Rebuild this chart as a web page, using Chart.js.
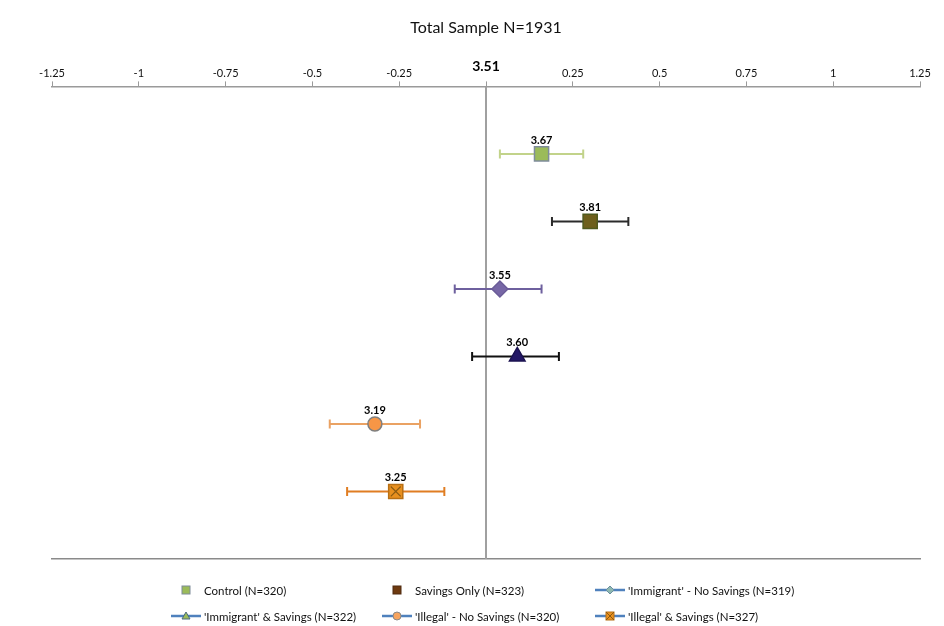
<!DOCTYPE html>
<html>
<head>
<meta charset="utf-8">
<script src="https://cdn.jsdelivr.net/npm/chart.js@4"></script>
<style>
  body { margin: 0; background: #fff; font-family: Lato, sans-serif; }
  #wrap { position: relative; width: 944px; height: 626px; }
  #wrap canvas { position: absolute; left: 0; top: 0; }
  .legend { position: absolute; left: 0; top: 580px; width: 944px; font-size: 11.5px; color: #111; }
  .item { position: absolute; display: flex; align-items: center; height: 20px; }
  .item svg { width: 32px; height: 14px; margin-right: 2px; }
</style>
</head>
<body>
<div id="wrap">
  <canvas id="chart" width="944" height="626"></canvas>
  <div class="legend" id="legend"></div>
</div>
<script>
// overall mean, shown as the zero of the axis
const baseline = 3.51;
const groups = ['Control (N=320)', 'Savings Only (N=323)', "'Immigrant' - No Savings (N=319)",
                "'Immigrant' & Savings (N=322)", "'Illegal' - No Savings (N=320)", "'Illegal' & Savings (N=327)"];
const means = [3.67, 3.81, 3.55, 3.60, 3.19, 3.25];
// error bar ends, as distance from the baseline
const errLow = [0.04, 0.19, -0.09, -0.04, -0.45, -0.40];
const errHigh = [0.28, 0.41, 0.16, 0.21, -0.19, -0.12];
const xTicks = [-1.25, -1, -0.75, -0.5, -0.25, 0, 0.25, 0.5, 0.75, 1, 1.25];

const markers = [
    { style: 'rect', radius: 10, fill: '#9bbb59', border: '#7f8c9a', bar: '#c2d38a' },
    { style: 'rect', radius: 10, fill: '#6e5f1c', border: '#4f5a1e', bar: '#2b2b2b' },
    { style: 'rectRot', radius: 8, fill: '#7767a6', border: '#6a5c98', bar: '#6e609e' },
    { style: 'triangle', radius: 9, fill: '#241866', border: '#1b1250', bar: '#111111' },
    { style: 'circle', radius: 7, fill: '#f79646', border: '#7f7f7f', bar: '#eaa263' },
    { style: 'rect', radius: 10, fill: '#e8901f', border: '#b86f14', bar: '#e07d22' }
];

const datasets = [];
// zero reference line
datasets.push({
    type: 'line', data: [{ x: 0, y: 0 }, { x: 0, y: 7 }],
    borderColor: '#a0a0a0', borderWidth: 2, pointRadius: 0, order: 10
});
means.forEach((m, i) => {
    const row = i + 1;
    const mk = markers[i];
    datasets.push({
        type: 'line', data: [{ x: errLow[i], y: row }, { x: errHigh[i], y: row }],
        borderColor: mk.bar, borderWidth: 2, pointStyle: 'line', rotation: 90,
        pointRadius: 4.5, pointBorderWidth: 2, pointBorderColor: mk.bar, order: 5
    });
    datasets.push({
        label: groups[i], isMarker: true, value: m,
        data: [{ x: +(m - baseline).toFixed(2), y: row }],
        pointStyle: mk.style, pointRadius: mk.radius, pointHoverRadius: mk.radius,
        backgroundColor: mk.fill, borderColor: mk.border, borderWidth: 1.5, order: 1
    });
});
// the X drawn over the last square
datasets.push({
    data: [{ x: +(means[5] - baseline).toFixed(2), y: 6 }],
    pointStyle: 'crossRot', pointRadius: 7, borderColor: '#8a5a12', borderWidth: 1.2, order: 0
});

const valueLabels = {
    id: 'valueLabels',
    afterDatasetsDraw(chart) {
        const ctx = chart.ctx;
        const x = chart.scales.x;
        ctx.save();
        ctx.textAlign = 'center';
        ctx.textBaseline = 'alphabetic';
        ctx.fillStyle = '#000';
        ctx.font = 'bold 11px Lato';
        chart.data.datasets.forEach((ds, i) => {
            if (!ds.isMarker) return;
            const pt = chart.getDatasetMeta(i).data[0];
            ctx.fillText(ds.value.toFixed(2), pt.x, pt.y - 10);
        });
        ctx.font = 'bold 14px Lato';
        ctx.fillText(baseline.toFixed(2), x.getPixelForValue(0), 71);
        ctx.restore();
    }
};

new Chart(document.getElementById('chart'), {
    type: 'scatter',
    data: { datasets: datasets },
    options: {
        responsive: false,
        animation: false,
        layout: { padding: { left: 52, right: 24, top: 0, bottom: 67 } },
        scales: {
            x: {
                type: 'linear', position: 'top', min: -1.25, max: 1.25,
                afterBuildTicks: axis => { axis.ticks = xTicks.map(v => ({ value: v })); },
                ticks: {
                    maxRotation: 0, autoSkip: false, padding: 1, color: '#111',
                    font: { family: 'Lato', size: 11 },
                    callback: v => v === 0 ? '' : String(v)
                },
                grid: { drawOnChartArea: false, drawTicks: true, tickLength: 5, color: '#9a9a9a' },
                border: { color: '#9a9a9a', width: 1.5 }
            },
            x2: {
                type: 'linear', position: 'bottom', min: -1.25, max: 1.25,
                ticks: { display: false },
                grid: { drawOnChartArea: false, drawTicks: false },
                border: { color: '#8a8a8a', width: 1.5 }
            },
            y: { type: 'linear', min: 0, max: 7, reverse: true, display: false }
        },
        plugins: {
            legend: { display: false },
            tooltip: { enabled: false },
            title: {
                display: true, text: 'Total Sample N=1931', color: '#111',
                font: { family: 'Lato', size: 16, weight: 'normal' },
                padding: { top: 18, bottom: 29 }
            }
        }
    },
    plugins: [valueLabels]
});

// legend in three columns, Excel style
const legendPos = [[170, 0], [381, 0], [594, 0], [170, 26], [381, 26], [594, 26]];
const lineColor = '#4f81bd';
const icons = [
    '<rect x="12" y="3" width="8" height="8" fill="#9bbb59" stroke="#7f8c9a"/>',
    '<rect x="12" y="3" width="8" height="8" fill="#6e3a10" stroke="#4f2a10"/>',
    `<line x1="1" y1="7" x2="31" y2="7" stroke="${lineColor}" stroke-width="2.5"/><path d="M16 3 L20 7 L16 11 L12 7 Z" fill="#8fb8b0" stroke="#6a8fa0"/>`,
    `<line x1="1" y1="7" x2="31" y2="7" stroke="${lineColor}" stroke-width="2.5"/><path d="M16 3 L20 10 L12 10 Z" fill="#9bbb59" stroke="#4a6a80"/>`,
    `<line x1="1" y1="7" x2="31" y2="7" stroke="${lineColor}" stroke-width="2.5"/><circle cx="16" cy="7" r="4" fill="#f7a45e" stroke="#8a8a8a"/>`,
    `<line x1="1" y1="7" x2="31" y2="7" stroke="${lineColor}" stroke-width="2.5"/><rect x="12" y="3" width="8" height="8" fill="#e8901f" stroke="#b86f14"/><path d="M12 3 L20 11 M20 3 L12 11" stroke="#8a5a12"/>`
];
const legend = document.getElementById('legend');
groups.forEach((g, i) => {
    const d = document.createElement('div');
    d.className = 'item';
    d.style.left = legendPos[i][0] + 'px';
    d.style.top = legendPos[i][1] + 'px';
    d.innerHTML = `<svg viewBox="0 0 32 14">${icons[i]}</svg><span></span>`;
    d.querySelector('span').textContent = g;
    legend.appendChild(d);
});
</script>
</body>
</html>
